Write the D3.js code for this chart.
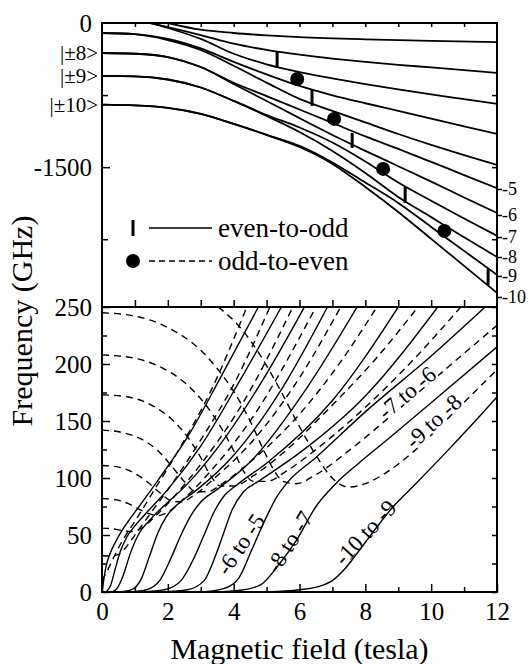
<!DOCTYPE html>
<html>
<head>
<meta charset="utf-8">
<script src="https://cdn.jsdelivr.net/npm/d3@7"></script>
<style>
body { margin: 0; background: #fff; }
svg { display: block; font-family: "Liberation Serif", "Times New Roman", serif; }
</style>
</head>
<body>
<svg id="chart" width="531" height="664"></svg>
<script>
// ---- top panel: energy levels (GHz) vs field (tesla) ----
var lvl_m10 = [[0,-850],[1,-858],[2,-884],[3,-946],[4,-1050],[5,-1165],[6,-1290],[7,-1466],[8,-1706],[9,-1966],[10,-2246],[11,-2527],[12,-2808]];
var lvl_m9  = [[0,-850],[1,-858],[2,-884],[3,-946],[4,-1050],[5,-1163],[6,-1279],[7,-1451],[8,-1660],[9,-1872],[10,-2122],[11,-2371],[12,-2621]];
var lvl_m8  = [[0,-551],[1,-556],[2,-588],[3,-671],[4,-811],[5,-967],[6,-1134],[7,-1331],[8,-1560],[9,-1810],[10,-2020],[11,-2230],[12,-2434]];
var lvl_m7  = [[0,-551],[1,-556],[2,-588],[3,-671],[4,-811],[5,-957],[6,-1087],[7,-1243],[8,-1440],[9,-1660],[10,-1850],[11,-2035],[12,-2215]];
var lvl_m6  = [[0,-312],[1,-320],[2,-354],[3,-458],[4,-634],[5,-811],[6,-990],[7,-1165],[8,-1330],[9,-1490],[10,-1650],[11,-1815],[12,-1976]];
var lvl_m5  = [[0,-312],[1,-320],[2,-354],[3,-458],[4,-622],[5,-760],[6,-900],[7,-1040],[8,-1180],[9,-1310],[10,-1445],[11,-1582],[12,-1718]];
var lvl_m4  = [[0,-104],[1,-116],[2,-177],[3,-281],[4,-445],[5,-620],[6,-790],[7,-915],[8,-1035],[9,-1155],[10,-1268],[11,-1375],[12,-1477]];
var lvl_m3  = [[0,-104],[1,-116],[2,-166],[3,-265],[4,-405],[5,-535],[6,-655],[7,-752],[8,-835],[9,-915],[10,-995],[11,-1075],[12,-1154]];
var lvl_m2  = [[1.46,0],[2,-52],[3,-166],[4,-320],[5,-430],[6,-510],[7,-575],[8,-635],[9,-690],[10,-742],[11,-792],[12,-842]];
var lvl_m1  = [[1.46,0],[2,-42],[3,-125],[4,-215],[5,-280],[6,-330],[7,-370],[8,-405],[9,-435],[10,-462],[11,-490],[12,-520]];
var lvl_0   = [[2,0],[3,-70],[4,-104],[5,-128],[6,-146],[8,-170],[10,-187],[12,-198]];
var topLevels = [lvl_0, lvl_m1, lvl_m2, lvl_m3, lvl_m4, lvl_m5, lvl_m6, lvl_m7, lvl_m8, lvl_m9, lvl_m10];
var endLabels = ["-5", "-6", "-7", "-8", "-9", "-10"];
var endLabelValues = [-1727, -1998, -2227, -2435, -2632, -2851];
var zeroFieldLabels = ["|\u00b18>", "|\u00b19>", "|\u00b110>"];
var evenOddBars = [[5.32,-302,-468],[6.38,-697,-863],[7.6,-1144,-1300],[9.21,-1706,-1872],[11.73,-2558,-2725]];
var oddEvenDots = [[5.93,-582],[7.05,-998],[8.54,-1518],[10.4,-2163]];

// ---- bottom panel: transition frequencies (GHz) ----
// even-to-odd (solid)
var s_m10 = [[5.0,0],[6.0,2],[6.6,5],[7.0,10],[7.4,21],[7.75,34],[8.35,57],[8.85,75],[9.5,94],[10.5,124],[11.5,155],[12,171]];
var s_m8  = [[3.4,0],[4.2,1.5],[4.8,6],[5.4,25],[5.9,45],[6.5,75],[7.1,95],[7.8,113],[8.6,132],[10,166],[12,215]];
var s_m6  = [[3.0,0],[3.7,3],[4.15,12],[4.55,37],[4.95,63],[5.3,83],[5.6,95],[6.5,118],[8,158],[10,207],[11.64,250]];
var s_m4  = [[1.8,0],[2.6,2],[3.1,10],[3.45,32],[3.7,52],[3.95,72],[4.3,88],[4.75,97],[6,122],[8,172],[10.2,250]];
var s_m2  = [[1.2,0],[1.9,2],[2.4,10],[2.8,30],[3.1,50],[3.4,70],[3.7,84],[4.1,94],[5,113],[7,168],[9.0,250]];
var s_0   = [[0.85,0],[1.35,2],[1.75,10],[2.1,30],[2.4,50],[2.7,67],[3.0,79],[3.5,90],[4.5,114],[6.2,178],[7.75,250]];
var s_2   = [[0.55,0],[0.9,2],[1.2,12],[1.45,32],[1.7,52],[1.95,66],[2.3,77],[2.9,90],[4,120],[5.5,180],[6.85,250]];
var s_4   = [[0.3,0],[0.45,3],[0.65,15],[0.85,33],[1.1,50],[1.45,63],[1.9,76],[2.5,92],[3.5,126],[4.8,182],[6.15,250]];
var s_6   = [[0.12,0],[0.25,5],[0.4,20],[0.55,35],[0.75,48],[1.0,58],[1.4,71],[2,90],[3,128],[4.2,186],[5.45,250]];
var s_8   = [[0,0],[0.05,10],[0.12,22],[0.25,34],[0.45,46],[0.7,58],[1.1,74],[1.7,98],[2.6,136],[3.6,188],[4.75,250]];
// odd-to-even (dashed)
var d_m9 = [[3.53,250],[4.2,232],[4.8,208],[5.4,178],[6.0,145],[6.5,120],[6.9,103],[7.2,95],[7.5,92],[8.0,95],[8.7,106],[9.5,124],[10.5,152],[11.3,175],[12,195]];
var d_m7 = [[0,245],[1,242],[2,232],[3,212],[3.5,196],[4.0,176],[4.5,150],[4.9,125],[5.2,108],[5.5,97],[5.9,95],[6.5,103],[7.5,124],[9,160],[10.5,197],[12,234]];
var d_m5 = [[0,208],[1,205],[1.8,197],[2.5,184],[3.1,166],[3.6,145],[4.0,124],[4.3,106],[4.6,97],[5.0,97],[5.6,106],[6.5,125],[8,162],[9.5,205],[10.9,250]];
var d_m3 = [[0,173],[0.8,171],[1.5,164],[2.1,152],[2.6,136],[3.0,118],[3.3,102],[3.6,93],[4.0,93],[4.6,102],[5.5,122],[7,164],[8.3,204],[9.6,250]];
var d_m1 = [[0,142],[0.6,140],[1.2,134],[1.7,124],[2.1,111],[2.5,97],[2.85,88],[3.2,88],[3.7,96],[4.5,114],[6,156],[7.3,204],[8.35,250]];
var d_1  = [[0,111],[0.5,109.5],[1.0,104],[1.4,96],[1.8,86],[2.1,80],[2.4,79],[2.8,85],[3.5,102],[4.5,130],[6,188],[7.25,250]];
var d_3  = [[0,82],[0.4,81],[0.8,77.5],[1.1,73],[1.4,69],[1.7,67],[2.0,70],[2.5,82],[3.3,106],[4.5,150],[6.5,250]];
var d_5  = [[0,56],[0.3,55.5],[0.6,54],[0.9,53],[1.2,56],[1.6,66],[2.2,84],[3,112],[4.2,162],[5.8,250]];
var d_7  = [[0,32],[0.25,31.5],[0.5,33],[0.75,40],[1.05,52],[1.5,70],[2.2,98],[3.1,138],[4,182],[5.1,250]];
var d_9  = [[0,10],[0.15,18],[0.35,30],[0.6,44],[1,62],[1.6,90],[2.4,128],[3.3,176],[4.4,250]];
var solidCurves = [s_m10, s_m8, s_m6, s_m4, s_m2, s_0, s_2, s_4, s_6, s_8];
var dashedCurves = [d_m9, d_m7, d_m5, d_m3, d_m1, d_1, d_3, d_5, d_7, d_9];
var curveLabels = [
    {text: "-6 to -5", B: 4.2, f: 42, angle: -56, dashed: false},
    {text: "-8 to -7", B: 5.68, f: 44, angle: -58, dashed: false},
    {text: "-10 to -9", B: 7.99, f: 52.4, angle: -47, dashed: false},
    {text: "-7 to -6", B: 9.26, f: 175, angle: -40, dashed: true},
    {text: "-9 to -8", B: 10.06, f: 150, angle: -43, dashed: true}
];

var fieldTicks = [0, 2, 4, 6, 8, 10, 12];
var fieldMinor = [1, 3, 5, 7, 9, 11];
var freqTicks = [0, 50, 100, 150, 200, 250];
var freqMinor = [25, 75, 125, 175, 225];
var energyTicks = [0, -1500];
var energyMinor = [-750, -2250];

var serif = "'Liberation Serif', 'Times New Roman', Times, serif";
var margin = {top: 23, right: 34, bottom: 72, left: 102};
var width = 531 - margin.left - margin.right;
var split = 307;
var bottomY = 664 - margin.bottom;

var svg = d3.select("#chart");
svg.append("rect").attr("width", 531).attr("height", 664).attr("fill", "#fff");

var x = d3.scaleLinear().domain([0, 12]).range([margin.left, margin.left + width]);
var yTop = d3.scaleLinear().domain([0, -2955]).range([margin.top, split]);
var yBot = d3.scaleLinear().domain([0, 250]).range([bottomY, split]);

var defs = svg.append("defs");
defs.append("clipPath").attr("id", "top_clip").append("rect")
    .attr("x", margin.left).attr("y", margin.top).attr("width", width).attr("height", split - margin.top);
defs.append("clipPath").attr("id", "bot_clip").append("rect")
    .attr("x", margin.left).attr("y", split).attr("width", width).attr("height", bottomY - split);

// Top panel lines------------------------------
var topLine = d3.line()
    .x(function (d) { return x(d[0]); })
    .y(function (d) { return yTop(d[1]); })
    .curve(d3.curveMonotoneX);

var topPlot = svg.append("g").attr("clip-path", "url(#top_clip)");
topPlot.selectAll("path.level")
    .data(topLevels)
    .enter().append("path")
    .attr("class", "level")
    .attr("d", topLine)
    .style("fill", "none")
    .style("stroke", "#000")
    .style("stroke-width", 1.8);

topPlot.selectAll("line.bar")
    .data(evenOddBars)
    .enter().append("line")
    .attr("x1", function (d) { return x(d[0]); })
    .attr("x2", function (d) { return x(d[0]); })
    .attr("y1", function (d) { return yTop(d[1]); })
    .attr("y2", function (d) { return yTop(d[2]); })
    .style("stroke", "#000")
    .style("stroke-width", 3);

topPlot.selectAll("circle.dot")
    .data(oddEvenDots)
    .enter().append("circle")
    .attr("cx", function (d) { return x(d[0]); })
    .attr("cy", function (d) { return yTop(d[1]); })
    .attr("r", 7)
    .style("fill", "#000");

// Bottom panel curves------------------------------
var botLine = d3.line()
    .x(function (d) { return x(d[0]); })
    .y(function (d) { return yBot(d[1]); })
    .curve(d3.curveMonotoneX);

var botPlot = svg.append("g").attr("clip-path", "url(#bot_clip)");
botPlot.selectAll("path.solid")
    .data(solidCurves)
    .enter().append("path")
    .attr("d", botLine)
    .style("fill", "none")
    .style("stroke", "#000")
    .style("stroke-width", 1.4);
botPlot.selectAll("path.dashed")
    .data(dashedCurves)
    .enter().append("path")
    .attr("d", botLine)
    .style("fill", "none")
    .style("stroke", "#000")
    .style("stroke-width", 1.4)
    .style("stroke-dasharray", "7,5");

svg.selectAll("text.clabel")
    .data(curveLabels)
    .enter().append("text")
    .attr("transform", function (d) {
        return "translate(" + x(d.B) + "," + yBot(d.f) + ") rotate(" + d.angle + ")";
    })
    .attr("text-anchor", "middle")
    .attr("dy", "0.35em")
    .style("font-family", serif)
    .style("font-size", "23px")
    .style("paint-order", "stroke")
    .style("stroke", function (d) { return d.dashed ? "#fff" : "none"; })
    .style("stroke-width", 5)
    .text(function (d) { return d.text; });

// Axes------------------------------
function styleAxis(g, size) {
    g.select(".domain").remove();
    g.selectAll(".tick line").style("stroke-width", 1.5);
    g.selectAll(".tick text").style("font-size", size + "px").style("font-family", serif);
}
var blank = function () { return ""; };

var xb = svg.append("g").attr("transform", "translate(0," + bottomY + ")")
    .call(d3.axisBottom(x).tickValues(fieldTicks).tickSize(-8).tickPadding(10));
styleAxis(xb, 25);
var xbm = svg.append("g").attr("transform", "translate(0," + bottomY + ")")
    .call(d3.axisBottom(x).tickValues(fieldMinor).tickSize(-5).tickFormat(blank));
styleAxis(xbm, 25);
var xs = svg.append("g").attr("transform", "translate(0," + split + ")")
    .call(d3.axisBottom(x).tickValues(d3.range(1, 12)).tickSize(-7).tickFormat(blank));
styleAxis(xs, 25);
var xt = svg.append("g").attr("transform", "translate(0," + margin.top + ")")
    .call(d3.axisTop(x).tickValues(d3.range(1, 12)).tickSize(-4).tickFormat(blank));
styleAxis(xt, 25);

var yl = svg.append("g").attr("transform", "translate(" + margin.left + ",0)")
    .call(d3.axisLeft(yBot).tickValues(freqTicks).tickSize(-8).tickPadding(10));
styleAxis(yl, 25);
var ylm = svg.append("g").attr("transform", "translate(" + margin.left + ",0)")
    .call(d3.axisLeft(yBot).tickValues(freqMinor).tickSize(-5).tickFormat(blank));
styleAxis(ylm, 25);
var yr = svg.append("g").attr("transform", "translate(" + (margin.left + width) + ",0)")
    .call(d3.axisRight(yBot).tickValues(freqTicks.concat(freqMinor)).tickSize(-5).tickFormat(blank));
styleAxis(yr, 25);

var ytl = svg.append("g").attr("transform", "translate(" + margin.left + ",0)")
    .call(d3.axisLeft(yTop).tickValues(energyTicks).tickSize(-8).tickPadding(10)
        .tickFormat(function (d) { return String(d); }));
styleAxis(ytl, 25);
ytl.selectAll(".tick").filter(function (d) { return d === 0; }).select("line").remove();
var ytlm = svg.append("g").attr("transform", "translate(" + margin.left + ",0)")
    .call(d3.axisLeft(yTop).tickValues(energyMinor).tickSize(-6).tickFormat(blank));
styleAxis(ytlm, 25);
var ytr = svg.append("g").attr("transform", "translate(" + (margin.left + width) + ",0)")
    .call(d3.axisRight(yTop).tickValues(energyMinor.concat([-1500])).tickSize(-5).tickFormat(blank));
styleAxis(ytr, 25);

// level labels at the right end of the top panel
var yte = svg.append("g").attr("transform", "translate(" + (margin.left + width) + ",0)")
    .call(d3.axisRight(yTop).tickValues(endLabelValues).tickSize(5).tickPadding(0)
        .tickFormat(function (d, i) { return endLabels[i]; }));
styleAxis(yte, 18);

// zero-field doublet labels
var startValues = [lvl_m6, lvl_m8, lvl_m10].map(function (l) { return l[0][1]; });
svg.selectAll("text.zlabel")
    .data(zeroFieldLabels)
    .enter().append("text")
    .attr("x", margin.left - 4)
    .attr("y", function (d, i) { return yTop(startValues[i]); })
    .attr("dy", "0.35em")
    .attr("text-anchor", "end")
    .style("font-family", serif)
    .style("font-size", "21px")
    .text(function (d) { return d; });

// frame
svg.append("rect")
    .attr("x", margin.left).attr("y", margin.top)
    .attr("width", width).attr("height", bottomY - margin.top)
    .style("fill", "none").style("stroke", "#000").style("stroke-width", 2);
svg.append("line")
    .attr("x1", margin.left).attr("x2", margin.left + width)
    .attr("y1", split).attr("y2", split)
    .style("stroke", "#000").style("stroke-width", 2);

// legend
var legend = svg.append("g").style("font-family", serif);
legend.append("line").attr("x1", 133).attr("x2", 133).attr("y1", 220).attr("y2", 236)
    .style("stroke", "#000").style("stroke-width", 3);
legend.append("line").attr("x1", 149).attr("x2", 212).attr("y1", 228).attr("y2", 228)
    .style("stroke", "#000").style("stroke-width", 1.4);
legend.append("text").attr("x", 218).attr("y", 237).style("font-size", "27px").text("even-to-odd");
legend.append("circle").attr("cx", 133).attr("cy", 261).attr("r", 7).style("fill", "#000");
legend.append("line").attr("x1", 149).attr("x2", 212).attr("y1", 261).attr("y2", 261)
    .style("stroke", "#000").style("stroke-width", 1.4).style("stroke-dasharray", "6,4");
legend.append("text").attr("x", 218).attr("y", 270).style("font-size", "27px").text("odd-to-even");

// axis titles
svg.append("text")
    .attr("x", margin.left + width / 2).attr("y", 659)
    .attr("text-anchor", "middle")
    .style("font-family", serif)
    .style("font-size", "30px")
    .text("Magnetic field (tesla)");
svg.append("text")
    .attr("transform", "translate(32,321) rotate(-90)")
    .attr("text-anchor", "middle")
    .style("font-family", serif)
    .style("font-size", "30px")
    .text("Frequency (GHz)");
</script>
</body>
</html>
